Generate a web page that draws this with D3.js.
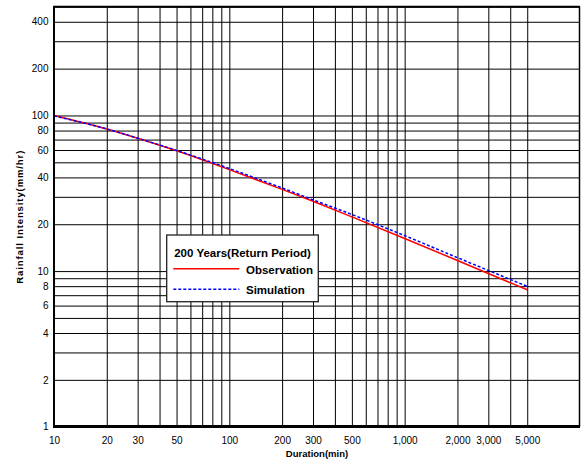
<!DOCTYPE html>
<html>
<head>
<meta charset="utf-8">
<script src="https://cdn.jsdelivr.net/npm/d3@7"></script>
<style>
  html, body { margin: 0; padding: 0; background: #fff; }
  svg { display: block; font-family: "Liberation Sans", Arial, sans-serif; }
</style>
</head>
<body>
<svg id="chart" width="581" height="462"></svg>
<script>
// Rainfall intensity vs duration, 200-year return period
const durations   = [10, 20, 30, 50, 100, 200, 300, 500, 1000, 2000, 3000, 5000];
const observation = [100, 81.9, 71.4, 59.3, 44.9, 33.5, 28.1, 22.3, 16.2, 11.7, 9.65, 7.58];
const simulation  = [99.3, 81.9, 71.5, 59.6, 45.6, 34.2, 28.7, 23.1, 16.9, 12.2, 10.1, 7.97];

const xTickLabels = [10, 20, 30, 50, 100, 200, 300, 500, 1000, 2000, 3000, 5000];
const yTickLabels = [1, 2, 4, 6, 8, 10, 20, 40, 60, 80, 100, 200, 400];
const xGridValues = [10,20,30,40,50,60,70,80,90,100,200,300,400,500,600,700,800,900,1000,2000,3000,4000,5000];
const yGridValues = [1,2,3,4,5,6,7,8,9,10,20,30,40,50,60,70,80,90,100,200,300,400,500];

const legendTitle = "200 Years(Return Period)";
const seriesNames = ["Observation", "Simulation"];

const plotLeft = 54, plotRight = 580, plotTop = 6.7, plotBottom = 426.7;

const svg = d3.select("#chart");
const x = d3.scaleLog().domain([10, 10000]).range([plotLeft, plotRight]);
const y = d3.scaleLog().domain([1, 500]).range([plotBottom, plotTop]);

// grid lines
svg.append("g")
  .attr("transform", `translate(0,${plotBottom})`)
  .call(d3.axisBottom(x).tickValues(xGridValues).tickSize(-(plotBottom - plotTop)).tickFormat(""))
  .call(g => g.select(".domain").remove())
  .call(g => g.selectAll("line").attr("stroke", "#000").attr("stroke-width", 1));

svg.append("g")
  .attr("transform", `translate(${plotLeft},0)`)
  .call(d3.axisLeft(y).tickValues(yGridValues).tickSize(-(plotRight - plotLeft)).tickFormat(""))
  .call(g => g.select(".domain").remove())
  .call(g => g.selectAll("line").attr("stroke", "#000").attr("stroke-width", 1));

// tick labels
const xAxis = svg.append("g")
  .attr("transform", `translate(0,${plotBottom})`)
  .call(d3.axisBottom(x).tickValues(xTickLabels).tickSize(0).tickPadding(10).tickFormat(d3.format(",")));
xAxis.select(".domain").remove();
xAxis.selectAll("text").attr("font-family", "Liberation Sans, Arial, sans-serif").attr("font-size", 10).attr("fill", "#000");

const yAxis = svg.append("g")
  .attr("transform", `translate(${plotLeft},0)`)
  .call(d3.axisLeft(y).tickValues(yTickLabels).tickSize(0).tickPadding(5.5).tickFormat(d3.format("d")));
yAxis.select(".domain").remove();
yAxis.selectAll("text").attr("font-family", "Liberation Sans, Arial, sans-serif").attr("font-size", 10).attr("fill", "#000");

// series
const line = vals => d3.line()
  .x((d, i) => x(durations[i]))
  .y(d => y(d))
  .curve(d3.curveMonotoneX)(vals);

svg.append("path").attr("d", line(observation))
  .attr("fill", "none").attr("stroke", "#ff0000").attr("stroke-width", 1.5);
svg.append("path").attr("d", line(simulation))
  .attr("fill", "none").attr("stroke", "#0000ff").attr("stroke-width", 1.5)
  .attr("stroke-dasharray", "3,2");

// frame
svg.append("line").attr("x1", plotLeft - 1).attr("x2", plotRight).attr("y1", plotTop).attr("y2", plotTop)
  .attr("stroke", "#000").attr("stroke-width", 2);
svg.append("line").attr("x1", plotLeft).attr("x2", plotLeft).attr("y1", plotTop).attr("y2", plotBottom)
  .attr("stroke", "#000").attr("stroke-width", 2);
svg.append("line").attr("x1", plotRight - 0.5).attr("x2", plotRight - 0.5).attr("y1", plotTop).attr("y2", plotBottom)
  .attr("stroke", "#000").attr("stroke-width", 1.5);
svg.append("line").attr("x1", plotLeft - 1).attr("x2", plotRight).attr("y1", plotBottom - 0.2).attr("y2", plotBottom - 0.2)
  .attr("stroke", "#000").attr("stroke-width", 3);

// axis titles
svg.append("text")
  .attr("x", (plotLeft + plotRight) / 2).attr("y", 456.5)
  .attr("text-anchor", "middle").attr("font-size", 9.5).attr("font-weight", "bold")
  .text("Duration(min)");

svg.append("text")
  .attr("transform", `translate(23,${(plotTop + plotBottom) / 2}) rotate(-90)`)
  .attr("text-anchor", "middle").attr("font-size", 9.5).attr("font-weight", "bold")
  .attr("letter-spacing", 0.9)
  .text("Rainfall Intensity(mm/hr)");

// legend
const lg = svg.append("g");
lg.append("rect").attr("x", 166.7).attr("y", 235).attr("width", 151.6).attr("height", 66.7)
  .attr("fill", "#fff").attr("stroke", "#222").attr("stroke-width", 1.3);
lg.append("text").attr("x", 242.5).attr("y", 256.7).attr("text-anchor", "middle")
  .attr("font-size", 11.5).attr("font-weight", "bold").text(legendTitle);
lg.append("line").attr("x1", 173.3).attr("x2", 239.3).attr("y1", 268.7).attr("y2", 268.7)
  .attr("stroke", "#ff0000").attr("stroke-width", 1.5);
lg.append("text").attr("x", 246).attr("y", 273.5)
  .attr("font-size", 11.5).attr("font-weight", "bold").text(seriesNames[0]);
lg.append("line").attr("x1", 173.3).attr("x2", 239.3).attr("y1", 289.3).attr("y2", 289.3)
  .attr("stroke", "#0000ff").attr("stroke-width", 1.5).attr("stroke-dasharray", "3,2");
lg.append("text").attr("x", 246).attr("y", 293.5)
  .attr("font-size", 11.5).attr("font-weight", "bold").text(seriesNames[1]);
</script>
</body>
</html>
